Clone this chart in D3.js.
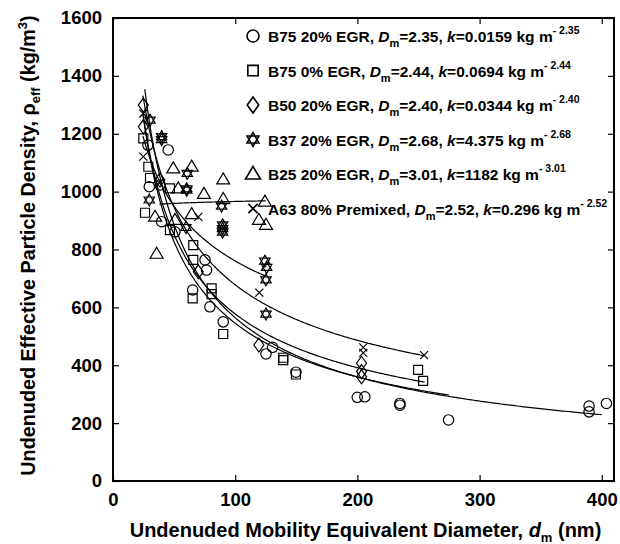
<!DOCTYPE html>
<html><head><meta charset="utf-8">
<script src="https://cdn.jsdelivr.net/npm/d3@7"></script>
<style>body{margin:0;background:#fff}text{font-family:"Liberation Sans",Arial,sans-serif;font-weight:bold;fill:#000}</style>
</head><body>
<svg id="c" width="620" height="544"></svg>
<script>
// ---- data (diameter nm, effective density kg/m3) ----
const xTicks = [0, 100, 200, 300, 400];
const yTicks = [0, 200, 400, 600, 800, 1000, 1200, 1400, 1600];

const b75egr20 = [[28.6,1161],[45.2,1144],[29.7,1017],[38.5,1023],[39.8,896],[50.7,861],[75.3,764],[76.6,729],
  [65.2,660],[79.3,602],[90.2,550],[130.6,462],[125.2,439],[149.7,376],[199.9,289],[206.1,291],[234.8,268],
  [234.8,262],[274.6,211],[389.6,259],[389.6,239],[403.8,268]];
const b75egr0 = [[24.8,1184],[28.9,1086],[30.3,1047],[26.2,927],[46.6,1011],[46.6,867],[65.7,815],[65.7,764],
  [65.2,631],[80.7,666],[80.7,646],[90.2,508],[139.3,426],[139.3,418],[149.7,368],[249.7,384],[253.8,346]];
const b50egr20 = [[24.8,1299],[24.8,1224],[38.4,1040],[69.8,723],[119.4,470],[203.4,407],[203.4,378],[203.4,360]];
const b37egr20 = [[30.3,1247],[39.8,1190],[39.8,1180],[60.8,1063],[60.3,1005],[60.3,1010],[29.7,971],[59.7,876],
  [88.9,950],[89.7,885],[89.7,872],[89.7,860],[124.3,760],[125.7,738],[125.2,695],[125.2,577]];
const b25egr20 = [[34.4,913],[35.7,785],[49.3,1080],[53.4,1011],[50.7,902],[64.4,1086],[64.4,922],[74.4,992],
  [90.2,1042],[90.2,974],[124.3,965],[119.4,902],[125.2,885]];
const a63pre80 = [[24.8,1270],[24.8,1121],[38.0,1030],[69.8,913],[119.7,651],[204.8,462],[204.8,443],[254.6,435]];

const seriesData = [b75egr20, b75egr0, b50egr20, b37egr20, b25egr20, a63pre80];
const seriesMarkers = ["circle", "square", "diamond", "hexagram", "triangle", "cross"];
const seriesNames = ["B75 20% EGR, ", "B75 0% EGR, ", "B50 20% EGR, ", "B37 20% EGR, ", "B25 20% EGR, ", "A63 80% Premixed, "];
const dmLabels = ["2.35", "2.44", "2.40", "2.68", "3.01", "2.52"];
const kLabels = ["0.0159", "0.0694", "0.0344", "4.375", "1182", "0.296"];

// power-law fit lines  rho = k * d^(Dm-3), d in metres
const fitK = [0.0159, 0.0694, 0.0344, 4.375, 1135, 0.296];
const fitDm = [2.35, 2.44, 2.40, 2.68, 3.01, 2.52];
const fitFrom = [26, 24.5, 24.5, 24.5, 38, 24.5];
const fitTo = [400, 255, 275, 125, 125, 255];

// ---- layout ----
const svg = d3.select("#c");
const L = 113, R = 614, T = 18, B = 481;
const x = d3.scaleLinear().domain([0, 410]).range([L, R]);
const y = d3.scaleLinear().domain([0, 1600]).range([B, T]);

// fits
const line = d3.line().x(d => x(d[0])).y(d => y(d[1]));
fitK.forEach((k, i) => {
  const pts = d3.range(0, 201).map(j => {
    const d = fitFrom[i] + (fitTo[i] - fitFrom[i]) * j / 200;
    return [d, k * Math.pow(d * 1e-9, fitDm[i] - 3)];
  });
  svg.append("path").attr("d", line(pts)).attr("fill", "none").attr("stroke", "#000").attr("stroke-width", 1.2);
});

// markers
function marker(type, s) {
  s = s || 1;
  switch (type) {
    case "circle": { const r = 5.2 * s; return `M${r},0A${r},${r} 0 1,1 ${-r},0A${r},${r} 0 1,1 ${r},0Z`; }
    case "square": { const h = 4.5 * s; return `M${-h},${-h}H${h}V${h}H${-h}Z`; }
    case "diamond": { const w = 5 * s, h = 7 * s; return `M0,${-h}L${w},0L0,${h}L${-w},0Z`; }
    case "triangle": { const w = 6.5 * s, h = 11 * s; return `M0,${-h * 0.6}L${w},${h * 0.4}L${-w},${h * 0.4}Z`; }
    case "hexagram": {
      const r = 6 * s; const p = a => [r * Math.cos(a * Math.PI / 180), r * Math.sin(a * Math.PI / 180)];
      const t1 = [-90, 30, 150].map(p), t2 = [90, 210, 330].map(p);
      return "M" + t1.map(q => q.join(",")).join("L") + "Z M" + t2.map(q => q.join(",")).join("L") + "Z";
    }
    case "cross": { const h = 4 * s; return `M${-h},${-h}L${h},${h}M${-h},${h}L${h},${-h}`; }
  }
}

seriesData.forEach((data, i) => {
  svg.append("g").selectAll("path").data(data).join("path")
    .attr("transform", d => `translate(${x(d[0])},${y(d[1])})`)
    .attr("d", marker(seriesMarkers[i]))
    .attr("fill", "none").attr("stroke", "#000").attr("stroke-width", 1.2);
});

// axes (ticks inward on all four sides)
const tickLen = 6, fmt = d3.format("d");
svg.append("g").attr("transform", `translate(0,${B})`)
  .call(d3.axisBottom(x).tickValues(xTicks).tickFormat(fmt).tickSizeInner(-tickLen).tickSizeOuter(0).tickPadding(12))
  .call(g => g.select(".domain").remove());
svg.append("g").attr("transform", `translate(0,${T})`)
  .call(d3.axisTop(x).tickValues(xTicks).tickSizeInner(-tickLen).tickSizeOuter(0).tickFormat(""))
  .call(g => g.select(".domain").remove());
svg.append("g").attr("transform", `translate(${L},0)`)
  .call(d3.axisLeft(y).tickValues(yTicks).tickFormat(fmt).tickSizeInner(-tickLen).tickSizeOuter(0).tickPadding(11))
  .call(g => g.select(".domain").remove());
svg.append("g").attr("transform", `translate(${R},0)`)
  .call(d3.axisRight(y).tickValues(yTicks).tickSizeInner(-tickLen).tickSizeOuter(0).tickFormat(""))
  .call(g => g.select(".domain").remove());
svg.selectAll(".tick line").attr("stroke", "#000").attr("stroke-width", 1.2);
svg.selectAll(".tick text").attr("font-size", 18.5).attr("font-family", "Liberation Sans, Arial").attr("font-weight", "bold").attr("fill", "#000");
svg.append("rect").attr("x", L).attr("y", T).attr("width", R - L).attr("height", B - T)
  .attr("fill", "none").attr("stroke", "#000").attr("stroke-width", 2);

// axis titles
const xt = svg.append("text").attr("x", (L + R) / 2 + 2).attr("y", 537).attr("text-anchor", "middle").attr("font-size", 20);
xt.append("tspan").text("Undenuded Mobility Equivalent Diameter, ");
xt.append("tspan").attr("font-style", "italic").text("d");
xt.append("tspan").attr("font-size", 13).attr("dy", 5).text("m");
xt.append("tspan").attr("dy", -5).text(" (nm)");

const yt = svg.append("text").attr("transform", `translate(35,${(T + B) / 2 - 4}) rotate(-90)`)
  .attr("text-anchor", "middle").attr("font-size", 19.8);
yt.append("tspan").text("Undenuded Effective Particle Density, ρ");
yt.append("tspan").attr("font-size", 13).attr("dy", 5).text("eff");
yt.append("tspan").attr("dy", -5).text(" (kg/m");
yt.append("tspan").attr("font-size", 13).attr("dy", -8).text("3");
yt.append("tspan").attr("dy", 8).text(")");

// legend
const legX = 253, legY0 = 36, legDY = 34.5;
seriesNames.forEach((nm, i) => {
  const cy = legY0 + i * legDY;
  svg.append("path").attr("transform", `translate(${legX},${cy})`).attr("d", marker(seriesMarkers[i], 1.15))
    .attr("fill", "none").attr("stroke", "#000").attr("stroke-width", 1.6);
  const t = svg.append("text").attr("x", legX + 15).attr("y", cy + 6).attr("font-size", 15.5);
  t.append("tspan").text(nm);
  t.append("tspan").attr("font-style", "italic").text("D");
  t.append("tspan").attr("font-size", 11).attr("dy", 5).text("m");
  t.append("tspan").attr("dy", -5).text("=" + dmLabels[i] + ", ");
  t.append("tspan").attr("font-style", "italic").text("k");
  t.append("tspan").text("=" + kLabels[i] + " kg m");
  t.append("tspan").attr("font-size", 10.5).attr("dy", -8).text("- " + dmLabels[i]);
});
</script>
</body></html>
